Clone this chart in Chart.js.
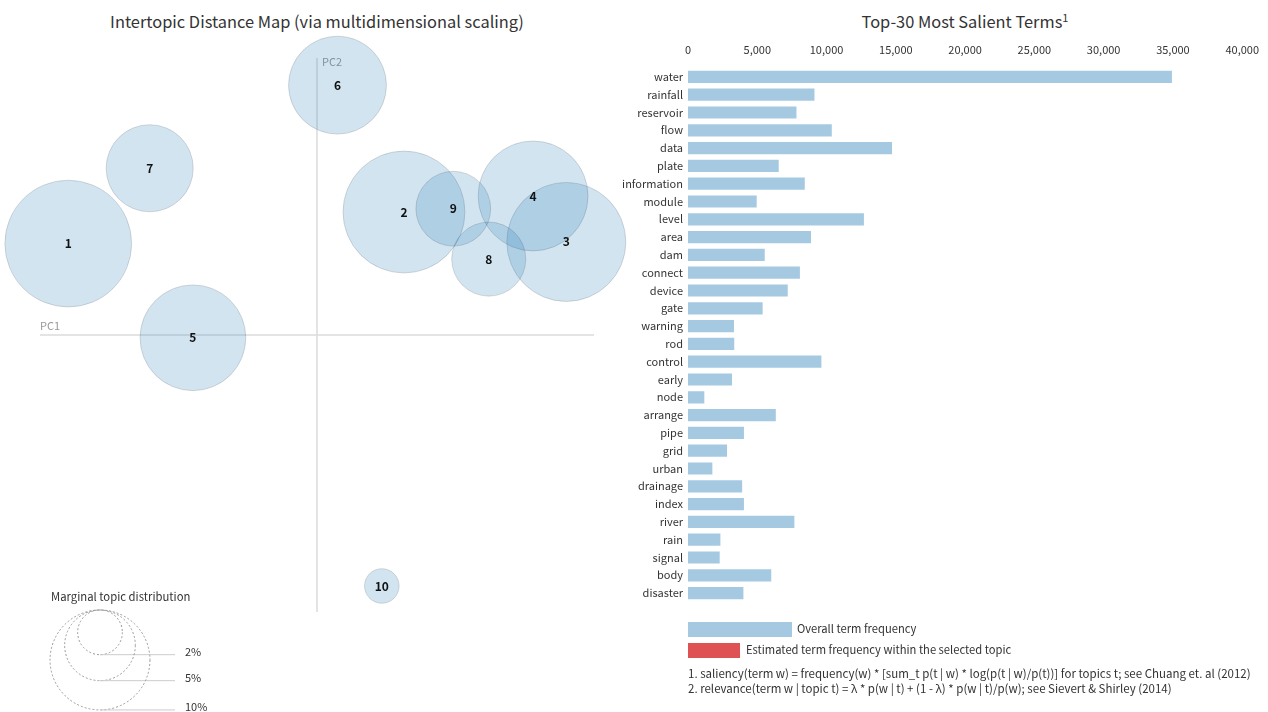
<!DOCTYPE html>
<html>
<head>
<meta charset="utf-8">
<title>LDA topic model overview</title>
<script src="https://cdn.jsdelivr.net/npm/chart.js@4.4.0/dist/chart.umd.min.js"></script>
<style>
  body {
    margin: 0;
    width: 1268px;
    height: 712px;
    position: relative;
    overflow: hidden;
    background: #fff;
    color: #333;
    font-family: "Noto Sans CJK KR", "Noto Sans", sans-serif;
  }
  .title { position: absolute; top: 9px; font-size: 16.4px; white-space: nowrap; transform: translateX(-50%); }
  .title sup { font-size: 11px; }
  #topicMap { position: absolute; left: 0; top: 0; }
  #termBars { position: absolute; left: 600px; top: 0; }
  .swatch { position: absolute; left: 688px; height: 15px; }
  .note { position: absolute; font-size: 11.2px; line-height: 15px; white-space: nowrap; }
  .foot { position: absolute; left: 688px; font-size: 11.5px; white-space: nowrap; }
</style>
</head>
<body>
<div class="title" style="left:317px">Intertopic Distance Map (via multidimensional scaling)</div>
<div class="title" style="left:965px">Top-30 Most Salient Terms<sup>1</sup></div>

<canvas id="topicMap" width="640" height="712"></canvas>
<canvas id="termBars" width="671" height="712"></canvas>

<div class="swatch" style="top:622px;width:104px;background:rgba(31,119,180,0.4)"></div>
<div class="note" style="left:797px;top:621px">Overall term frequency</div>
<div class="swatch" style="top:643px;width:52px;background:#de5253"></div>
<div class="note" style="left:746px;top:642px">Estimated term frequency within the selected topic</div>
<div class="foot" style="top:665px">1. saliency(term w) = frequency(w) * [sum_t p(t | w) * log(p(t | w)/p(t))] for topics t; see Chuang et. al (2012)</div>
<div class="foot" style="top:680px">2. relevance(term w | topic t) = &lambda; * p(w | t) + (1 - &lambda;) * p(w | t)/p(w); see Sievert &amp; Shirley (2014)</div>

<script>
// topic positions on the first two principal components
const topicIds = [1, 2, 3, 4, 5, 6, 7, 8, 9, 10];
const topicPC1 = [-0.449, 0.157, 0.450, 0.390, -0.224, 0.037, -0.302, 0.310, 0.246, 0.117];
const topicPC2 = [0.165, 0.222, 0.168, 0.251, -0.005, 0.451, 0.301, 0.137, 0.228, -0.453];
// marginal topic distribution, percent of tokens
const topicShare = [16.1, 14.9, 14.2, 12.1, 11.2, 9.6, 7.6, 5.5, 5.6, 1.2];
const shareLegend = [2, 5, 10];

// top-30 salient terms and their overall frequency
const termLabels = ['water', 'rainfall', 'reservoir', 'flow', 'data', 'plate', 'information', 'module',
  'level', 'area', 'dam', 'connect', 'device', 'gate', 'warning', 'rod', 'control', 'early', 'node',
  'arrange', 'pipe', 'grid', 'urban', 'drainage', 'index', 'river', 'rain', 'signal', 'body', 'disaster'];
const termFreq = [35000, 9200, 7900, 10450, 14800, 6620, 8500, 5030, 12770, 8950, 5610, 8150, 7270,
  5460, 3390, 3410, 9700, 3250, 1250, 6410, 4110, 2890, 1830, 3980, 4110, 7750, 2410, 2360, 6080, 4070];

const FONT = '"Noto Sans CJK KR", "Noto Sans", sans-serif';

// circle area proportional to topic share
function radiusFor(pct) {
  return 15.8 * Math.sqrt(pct);
}

document.addEventListener('DOMContentLoaded', function () {

  // zero lines + PC labels behind the bubbles
  const pcAxes = {
    id: 'pcAxes',
    beforeDatasetsDraw(chart) {
      const { ctx, chartArea, scales } = chart;
      const x0 = scales.x.getPixelForValue(0);
      const y0 = scales.y.getPixelForValue(0);
      ctx.save();
      ctx.strokeStyle = '#dcdcdc';
      ctx.lineWidth = 1.5;
      ctx.beginPath();
      ctx.moveTo(chartArea.left, y0);
      ctx.lineTo(chartArea.right, y0);
      ctx.moveTo(x0, chartArea.top);
      ctx.lineTo(x0, chartArea.bottom);
      ctx.stroke();
      ctx.fillStyle = '#999';
      ctx.font = '11px ' + FONT;
      ctx.textBaseline = 'bottom';
      ctx.fillText('PC1', chartArea.left, y0 - 4);
      ctx.textBaseline = 'middle';
      ctx.fillText('PC2', x0 + 5, chartArea.top + 4);
      ctx.restore();
    }
  };

  // topic numbers on each bubble
  const topicLabels = {
    id: 'topicLabels',
    afterDatasetsDraw(chart) {
      const ctx = chart.ctx;
      const meta = chart.getDatasetMeta(0);
      ctx.save();
      ctx.fillStyle = '#111';
      ctx.font = 'bold 12px ' + FONT;
      ctx.textAlign = 'center';
      ctx.textBaseline = 'middle';
      meta.data.forEach(function (el, i) {
        ctx.fillText(String(topicIds[i]), el.x, el.y);
      });
      ctx.restore();
    }
  };

  // size key in the lower left corner
  const shareKey = {
    id: 'shareKey',
    afterDraw(chart) {
      const ctx = chart.ctx;
      const cx = 100, top = 610;
      ctx.save();
      ctx.fillStyle = '#333';
      ctx.font = '11.3px ' + FONT;
      ctx.textBaseline = 'middle';
      ctx.fillText('Marginal topic distribution', 51, 597);
      shareLegend.forEach(function (pct) {
        const r = radiusFor(pct);
        const bottom = top + 2 * r;
        ctx.setLineDash([2, 2]);
        ctx.strokeStyle = '#999';
        ctx.lineWidth = 1;
        ctx.beginPath();
        ctx.arc(cx, top + r, r, 0, Math.PI * 2);
        ctx.stroke();
        ctx.setLineDash([]);
        ctx.strokeStyle = '#ccc';
        ctx.beginPath();
        ctx.moveTo(cx, bottom);
        ctx.lineTo(175, bottom);
        ctx.stroke();
        ctx.fillStyle = '#333';
        ctx.font = '11px ' + FONT;
        ctx.fillText(pct + '%', 185, bottom - 3);
      });
      ctx.restore();
    }
  };

  new Chart(document.getElementById('topicMap'), {
    type: 'bubble',
    data: {
      datasets: [{
        data: topicIds.map(function (t, i) {
          return { x: topicPC1[i], y: topicPC2[i], r: radiusFor(topicShare[i]) };
        }),
        backgroundColor: 'rgba(31,119,180,0.2)',
        borderColor: 'rgba(0,0,0,0.13)',
        borderWidth: 1,
        hoverRadius: 0,
        clip: false
      }]
    },
    options: {
      responsive: false,
      animation: false,
      events: [],
      layout: { autoPadding: false, padding: { left: 40, right: 46, top: 58, bottom: 100 } },
      scales: {
        x: { type: 'linear', min: -0.5, max: 0.5, display: false },
        y: { type: 'linear', min: -0.5, max: 0.5, display: false }
      },
      plugins: { legend: { display: false }, tooltip: { enabled: false } }
    },
    plugins: [pcAxes, topicLabels, shareKey]
  });

  new Chart(document.getElementById('termBars'), {
    type: 'bar',
    data: {
      labels: termLabels,
      datasets: [{
        data: termFreq,
        backgroundColor: 'rgba(31,119,180,0.4)',
        borderColor: 'rgba(255,255,255,0.7)',
        borderWidth: 1,
        barPercentage: 0.8,
        categoryPercentage: 1
      }]
    },
    options: {
      indexAxis: 'y',
      responsive: false,
      animation: false,
      events: [],
      layout: { padding: { left: 0, right: 0, top: 0, bottom: 110 } },
      scales: {
        x: {
          position: 'top',
          min: 0,
          max: 40000,
          grid: { display: false, drawTicks: false },
          border: { display: false },
          ticks: { stepSize: 5000, color: '#333', font: { family: FONT, size: 11 }, padding: 12 },
          afterFit(scale) { scale.height = 68; }
        },
        y: {
          grid: { display: false, drawTicks: false },
          border: { display: false },
          ticks: { color: '#333', font: { family: FONT, size: 11 }, padding: 5, autoSkip: false },
          afterFit(scale) { scale.width = 88; }
        }
      },
      plugins: { legend: { display: false }, tooltip: { enabled: false } }
    }
  });
});
</script>
</body>
</html>
